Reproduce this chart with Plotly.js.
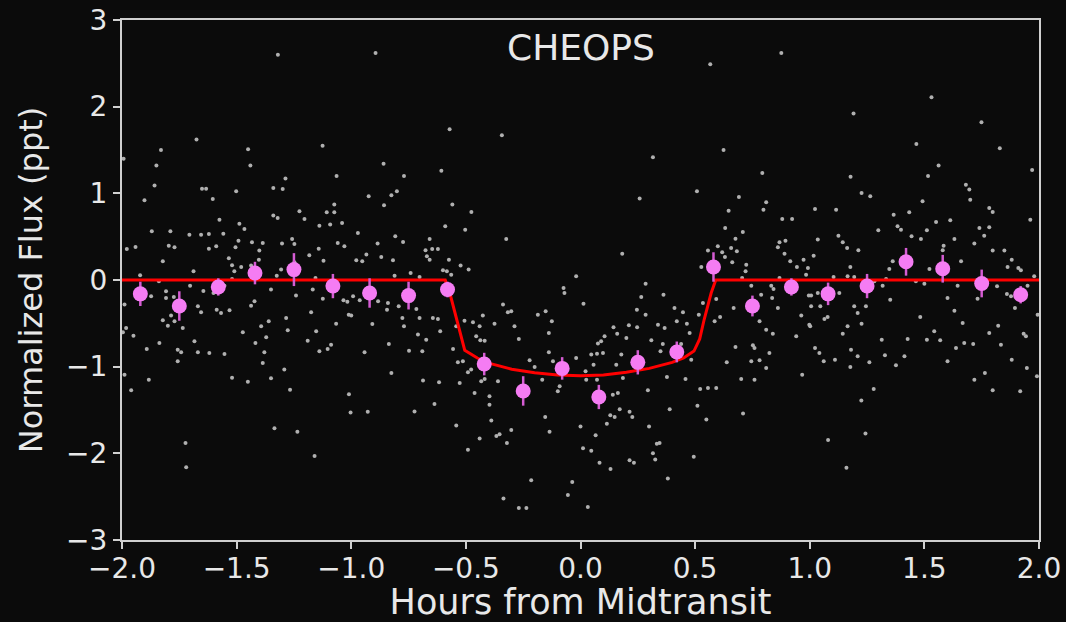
<!DOCTYPE html>
<html>
<head>
<meta charset="utf-8">
<script src="https://cdn.plot.ly/plotly-3.0.1.min.js"></script>
<style>
  html, body { margin: 0; padding: 0; background: #0b0b0b; }
  #chart { width: 1066px; height: 622px; }
</style>
</head>
<body>
<div id="chart"></div>
<script>
// Unbinned CHEOPS photometry, [hours from midtransit, normalized flux in ppt],
// grouped by phase segment.
const rawEarly = [
  [-1.858,1.09],[-1.651,1.054],[-1.633,1.054],[-1.502,1.023],[-1.340,1.062],[-1.299,1.050],[-1.902,0.920],[-1.604,0.935],
  [-1.074,0.870],[-1.226,0.793],[-1.107,0.781],[-1.074,0.781],[-1.340,0.743],[-1.321,0.716],[-1.204,0.704],[-1.575,0.696],
  [-1.488,0.650],[-1.466,0.589],[-1.139,0.627],[-1.092,0.639],[-1.040,0.658],[-1.870,0.562],[-1.789,0.562],[-1.706,0.523],
  [-1.655,0.523],[-1.621,0.531],[-1.558,0.535],[-1.492,0.454],[-1.433,0.435],[-1.386,0.427],[-1.302,0.420],[-1.258,0.473],
  [-1.248,0.416],[-1.059,0.427],[-1.030,0.389],[-1.979,0.358],[-1.941,0.381],[-1.796,0.396],[-1.771,0.377],[-1.621,0.362],
  [-1.589,0.389],[-1.505,0.377],[-1.401,0.339],[-1.142,0.362],[-1.403,0.235],[-1.183,0.285],[-1.822,0.216],[-1.534,0.250],
  [-1.121,0.223],[-1.520,0.170],[-1.480,0.150],[-1.510,0.100],[-1.688,0.100],[-1.306,0.120],[-1.325,0.050],[-1.248,0.204],
  [-1.437,0.166],[-1.921,0.054],[-1.520,0.012],[-1.156,0.023],[-1.839,-0.015],[-1.703,-0.065],[-1.350,-0.111],[-1.168,-0.111],
  [-1.808,-0.130],[-1.553,-0.065],[-1.645,-0.127],[-1.601,-0.150],[-1.873,-0.188],[-1.808,-0.207],[-1.774,-0.196],[-1.241,-0.180],
  [-1.124,-0.215],[-1.034,-0.234],[-1.017,-0.250],[-1.989,-0.284],[-1.422,-0.246],[-1.437,-0.296],[-1.669,-0.304],[-1.655,-0.373],
  [-1.587,-0.342],[-1.568,-0.380],[-1.531,-0.350],[-1.175,-0.373],[-1.011,-0.400],[-1.822,-0.465],[-1.786,-0.411],[-1.771,-0.477],
  [-1.800,-0.527],[-1.735,-0.554],[-1.284,-0.438],[-1.360,-0.477],[-1.393,-0.534],[-1.066,-0.504],[-1.982,-0.554],[-1.996,-0.604],
  [-1.473,-0.604],[-1.277,-0.580],[-1.153,-0.592],[-1.950,-0.642],[-1.371,-0.661],[-1.837,-0.727],[-1.684,-0.707],[-1.418,-0.727],
  [-1.190,-0.700],[-1.088,-0.746],[-1.103,-0.796],[-1.892,-0.796],[-1.757,-0.804],[-1.742,-0.834],[-1.669,-0.834],[-1.619,-0.842],
  [-1.553,-0.854],[-1.379,-0.834],[-1.139,-0.823],[-1.757,-0.938],[-1.386,-0.957],[-1.292,-1.034],[-1.989,-1.092],[-1.883,-1.150],
  [-1.520,-1.127],[-1.451,-1.173],[-1.350,-1.134],[-1.960,-1.273],[-1.267,-1.265],
  [-1.993,1.40],[-1.32,2.60],[-1.83,1.50],[-1.85,1.32],[-1.675,1.62],[-1.45,1.51],[-1.44,1.32],[-1.125,1.55],
  [-1.287,1.17],[-1.064,1.20],[-1.335,-1.71],[-1.235,-1.75],[-1.16,-2.03],[-1.723,-1.88],[-1.72,-2.16],[-1.010,-1.317],
  [-1.003,-1.53]
];

const rawIngress = [
  [-0.924,0.966],[-0.825,0.977],[-0.801,1.023],[-0.857,0.862],[-0.559,0.870],[-0.476,0.785],[-0.971,0.543],[-0.808,0.504],
  [-0.774,0.439],[-0.658,0.473],[-0.590,0.620],[-0.503,0.581],[-0.324,0.473],[-0.885,0.420],[-0.934,0.293],[-0.978,0.227],
  [-0.952,0.216],[-0.869,0.266],[-0.818,0.227],[-0.676,0.343],[-0.647,0.358],[-0.622,0.358],[-0.670,0.273],[-0.658,0.235],
  [-0.574,0.235],[-0.523,0.166],[-0.488,0.120],[-0.741,0.081],[-0.811,0.050],[-0.702,0.035],[-0.600,0.112],[-0.583,0.100],
  [-0.564,0.062],[-0.992,-0.188],[-0.963,-0.234],[-0.883,-0.246],[-0.840,-0.265],[-0.793,-0.304],[-0.716,-0.334],[-0.844,-0.342],
  [-1.000,-0.411],[-0.908,-0.507],[-0.777,-0.438],[-0.770,-0.534],[-0.702,-0.438],[-0.644,-0.438],[-0.622,-0.450],[-0.612,-0.592],
  [-0.673,-0.688],[-0.709,-0.630],[-0.836,-0.738],[-0.942,-0.834],[-0.748,-0.815],[-0.690,-0.823],[-0.542,-0.534],[-0.506,-0.469],
  [-0.469,-0.488],[-0.440,-0.534],[-0.426,-0.411],[-0.375,-0.504],[-0.338,-0.284],[-0.317,-0.373],[-0.302,-0.361],[-0.288,-0.534],
  [-0.455,-0.650],[-0.437,-0.696],[-0.418,-0.700],[-0.269,-0.680],[-0.138,-0.611],[-0.186,-0.400],[-0.152,-0.361],[-0.125,-0.477],
  [-0.074,-0.092],[-0.070,-0.150],[-0.019,0.042],[-0.556,-0.796],[-0.535,-0.950],[-0.513,-0.938],[-0.491,-1.065],[-0.477,-1.034],
  [-0.825,-1.073],[-0.687,-1.161],[-0.617,-1.180],[-0.527,-1.188],[-0.433,-1.169],[-0.418,-1.142],[-0.360,-1.169],[-0.222,-0.927],
  [-0.200,-1.004],[-0.138,-0.834],[-0.120,-0.938],[-0.019,-0.900],[-0.462,-1.304],[-0.397,-1.342],[-0.091,-1.227],[-0.099,-1.284],
  [-0.167,-1.150],
  [-0.859,1.34],[-0.894,2.62],[-0.77,1.20],[-0.928,-1.52],[-0.571,1.74],[-0.343,1.67],[-0.607,1.26],
  [-0.724,-1.518],[-0.637,-1.43],[-0.542,-1.68],[-0.491,-1.96],[-0.44,-1.83],[-0.367,-1.80],[-0.353,-1.78],[-0.321,-1.88],
  [-0.397,-1.44],[-0.389,-1.62],[-0.302,-1.73],[-0.336,-2.52],[-0.269,-2.63],[-0.236,-2.63],[-0.215,-2.31],[-0.154,-1.58],
  [-0.135,-1.75],[-0.055,-2.48],[-0.036,-2.33]
];

const rawEgress = [
  [0.258,0.939],[0.508,1.023],[0.691,0.958],[0.810,0.896],[0.798,0.812],[0.646,0.800],[0.880,0.704],[0.923,0.704],
  [0.182,0.304],[0.631,0.600],[0.708,0.554],[0.676,0.477],[0.556,0.339],[0.599,0.389],[0.618,0.320],[0.630,0.266],
  [0.657,0.370],[0.682,0.331],[0.662,0.204],[0.723,0.177],[0.720,0.100],[0.705,0.023],[0.745,-0.065],[0.868,0.435],
  [0.894,0.454],[0.861,0.377],[0.890,0.304],[0.915,0.216],[0.944,0.150],[0.973,0.235],[0.992,0.139],[0.984,0.062],
  [0.868,0.023],[0.832,-0.065],[0.842,-0.104],[0.788,-0.169],[0.836,-0.207],[0.861,-0.323],[0.527,0.150],[0.284,-0.042],
  [0.362,-0.169],[0.265,-0.196],[0.013,-0.273],[0.534,-0.265],[0.592,-0.219],[0.668,-0.323],[0.246,-0.342],[0.284,-0.400],
  [0.410,-0.323],[0.447,-0.373],[0.516,-0.400],[0.420,-0.477],[0.464,-0.504],[0.338,-0.515],[0.367,-0.554],[0.211,-0.523],
  [0.144,-0.546],[0.247,-0.546],[0.160,-0.619],[0.200,-0.669],[0.476,-0.611],[0.105,-0.650],[0.090,-0.707],[0.076,-0.734],
  [0.072,-0.850],[0.309,-0.696],[0.359,-0.738],[0.439,-0.738],[0.349,-0.823],[0.178,-0.861],[0.098,-0.842],[0.047,-0.861],
  [0.057,-0.977],[0.156,-0.977],[0.022,-1.054],[0.072,-1.150],[0.025,-1.150],[0.585,-0.477],[0.609,-0.427],[0.781,-0.477],
  [0.810,-0.573],[0.839,-0.619],[0.941,-0.650],[1.002,-0.534],[0.963,-0.411],[0.996,-0.180],[0.676,-0.773],[0.752,-0.754],
  [0.759,-0.784],[0.824,-0.842],[0.638,-0.950],[0.745,-0.938],[0.781,-0.927],[0.810,-1.015],[0.701,-1.142],[0.759,-1.150],
  [0.967,-1.092],[0.522,-1.257],[0.556,-1.246],[0.592,-1.246],[0.294,-1.273],[0.377,-1.119],[0.458,-1.142],[0.185,-1.130],
  [0.141,-1.323],[0.432,-0.823],[0.483,-0.919],[0.163,-1.304],
  [0.316,1.415],[0.566,2.49],[0.876,2.62],[0.624,1.50],[0.793,1.235],
  [0.000,-1.69],[0.011,-1.94],[0.047,-1.97],[0.032,-2.62],[0.066,-1.79],[0.083,-2.11],[0.115,-1.66],[0.131,-2.18],
  [0.130,-1.56],[0.149,-1.58],[0.171,-1.49],[0.214,-1.52],[0.226,-1.58],[0.214,-2.08],[0.233,-2.11],[0.299,-1.69],
  [0.316,-2.00],[0.326,-2.07],[0.333,-1.89],[0.345,-1.88],[0.381,-2.29],[0.389,-1.49],[0.494,-2.04],[0.510,-1.45],
  [0.549,-1.61],[0.709,-1.54]
];

const rawLate = [
  [1.681,1.100],[1.696,1.043],[1.700,0.927],[1.226,1.004],[1.264,0.966],[1.492,0.908],[1.023,0.820],[1.115,0.812],
  [1.783,0.831],[1.798,0.785],[1.366,0.754],[1.434,0.781],[1.551,0.670],[1.613,0.689],[1.383,0.620],[1.398,0.581],
  [1.511,0.573],[1.740,0.600],[1.783,0.608],[1.761,0.512],[1.299,0.573],[1.125,0.512],[1.444,0.504],[1.485,0.473],
  [1.631,0.473],[1.035,0.466],[1.144,0.435],[1.163,0.370],[1.212,0.343],[1.584,0.396],[1.580,0.343],[1.718,0.420],
  [1.798,0.339],[1.849,0.339],[1.962,0.696],[1.017,0.281],[1.362,0.216],[1.660,0.216],[1.863,0.150],[1.881,0.235],
  [1.910,0.139],[1.921,0.112],[1.177,0.150],[1.347,0.127],[1.522,0.127],[1.104,0.035],[1.165,0.043],[1.194,0.035],
  [1.333,0.012],[1.463,-0.015],[1.500,-0.042],[1.645,-0.065],[1.817,-0.073],[1.950,-0.065],[1.979,0.042],[1.006,-0.180],
  [1.035,-0.150],[1.129,-0.150],[1.282,-0.015],[1.318,-0.065],[1.351,-0.227],[1.601,-0.207],[1.732,-0.215],[1.860,-0.161],
  [1.878,-0.188],[1.006,-0.304],[1.046,-0.304],[1.194,-0.304],[1.245,-0.304],[1.209,-0.380],[1.631,-0.354],[1.895,-0.323],
  [1.994,-0.400],[1.064,-0.450],[1.078,-0.427],[1.165,-0.534],[1.144,-0.619],[1.226,-0.504],[1.482,-0.427],[1.667,-0.496],
  [1.822,-0.527],[1.783,-0.611],[1.933,-0.619],[1.943,-0.650],[1.543,-0.592],[1.314,-0.688],[1.427,-0.680],[1.511,-0.688],
  [1.569,-0.696],[1.674,-0.727],[1.713,-0.738],[1.834,-0.746],[0.998,-0.515],[1.023,-0.784],[1.042,-0.842],[1.180,-0.804],
  [1.209,-0.880],[1.328,-0.869],[1.413,-0.880],[1.638,-0.784],[1.061,-0.938],[1.110,-0.919],[1.260,-0.950],[1.376,-0.984],
  [1.601,-0.938],[1.881,-0.919],[1.177,-1.004],[1.947,-1.015],[1.764,-1.073],[1.718,-1.150],[1.991,-1.111],[1.279,-1.257],
  [1.798,-1.273],[1.918,-1.284],
  [1.531,2.11],[1.191,1.92],[1.749,1.82],[1.465,1.57],[1.829,1.52],[1.562,1.32],[1.970,1.27],[1.516,1.20],
  [1.178,1.19],[1.080,-1.845],[1.243,-1.77],[1.160,-2.165],[1.225,-1.39]
];

// Binned light curve (1/6-hour bins) with 1-sigma uncertainties
const binTime = [-1.92, -1.75, -1.58, -1.42, -1.25, -1.08, -0.92, -0.75, -0.58, -0.42, -0.25, -0.08,
                  0.08,  0.25,  0.42,  0.58,  0.75,  0.92,  1.08,  1.25,  1.42,  1.58,  1.75,  1.92];
const binFlux = [-0.16, -0.30, -0.08, 0.08, 0.12, -0.07, -0.15, -0.18, -0.11, -0.97, -1.28, -1.02,
                 -1.35, -0.95, -0.83, 0.15, -0.30, -0.08, -0.16, -0.07, 0.21, 0.13, -0.04, -0.17];
const binErr  = [0.14, 0.17, 0.10, 0.13, 0.19, 0.14, 0.17, 0.16, 0.09, 0.13, 0.17, 0.13,
                 0.14, 0.14, 0.12, 0.17, 0.12, 0.10, 0.13, 0.14, 0.16, 0.16, 0.16, 0.10];

// Best-fit transit model
const modelTime = [-2.0, -0.59, -0.57, -0.54, -0.52, -0.505, -0.45, -0.40, -0.30, -0.20, -0.10, 0.00,
                    0.10, 0.20, 0.30, 0.40, 0.45, 0.495, 0.52, 0.54, 0.57, 0.59, 2.0];
const modelFlux = [0, 0, -0.15, -0.45, -0.68, -0.81, -0.90, -0.96, -1.03, -1.07, -1.095, -1.105,
                   -1.095, -1.065, -1.02, -0.95, -0.90, -0.82, -0.68, -0.45, -0.15, 0, 0];

const xTicks = [-2.0, -1.5, -1.0, -0.5, 0.0, 0.5, 1.0, 1.5, 2.0];
const yTicks = [-3, -2, -1, 0, 1, 2, 3];

const allRaw = rawEarly.concat(rawIngress, rawEgress, rawLate);
const rawTime = allRaw.map(p => p[0]);
const rawFlux = allRaw.map(p => p[1]);

const axisColor = '#d0d0d0';
const textColor = '#e8e8e8';
const fontFamily = 'DejaVu Sans, sans-serif';

const traces = [
  {
    x: rawTime, y: rawFlux, type: 'scatter', mode: 'markers',
    marker: { size: 4, color: '#b0b0b0' },
    hoverinfo: 'skip', showlegend: false
  },
  {
    x: modelTime, y: modelFlux, type: 'scatter', mode: 'lines',
    line: { color: '#ff0000', width: 3 },
    showlegend: false
  },
  {
    x: binTime, y: binFlux, type: 'scatter', mode: 'markers',
    marker: { size: 15, color: '#f57cf3' },
    error_y: { type: 'data', array: binErr, visible: true, color: '#d55cd3', thickness: 2.5, width: 0 },
    showlegend: false
  }
];

const axisCommon = {
  showline: true, mirror: true, linecolor: axisColor, linewidth: 2,
  ticks: 'outside', ticklen: 7, tickwidth: 2, tickcolor: axisColor,
  showgrid: false, zeroline: false,
  tickfont: { family: fontFamily, size: 28, color: textColor },
  automargin: false
};

const layout = {
  width: 1066, height: 622,
  paper_bgcolor: '#0b0b0b', plot_bgcolor: '#0b0b0b',
  margin: { l: 122, r: 27, t: 20, b: 82 },
  xaxis: Object.assign({}, axisCommon, {
    range: [-2, 2], tickvals: xTicks, tickformat: '.1f',
    ticklabelstandoff: -5,
    title: { text: 'Hours from Midtransit', font: { family: fontFamily, size: 35, color: textColor }, standoff: 2 }
  }),
  yaxis: Object.assign({}, axisCommon, {
    range: [-3, 3], tickvals: yTicks,
    title: { text: 'Normalized Flux (ppt)', font: { family: fontFamily, size: 32, color: textColor }, standoff: 14 }
  }),
  annotations: [{
    x: 0, y: 2.68, xref: 'x', yref: 'y', text: 'CHEOPS', showarrow: false,
    xanchor: 'center', yanchor: 'middle',
    font: { family: fontFamily, size: 36, color: textColor }
  }]
};

Plotly.newPlot('chart', traces, layout, { displayModeBar: false, staticPlot: true });
</script>
</body>
</html>
